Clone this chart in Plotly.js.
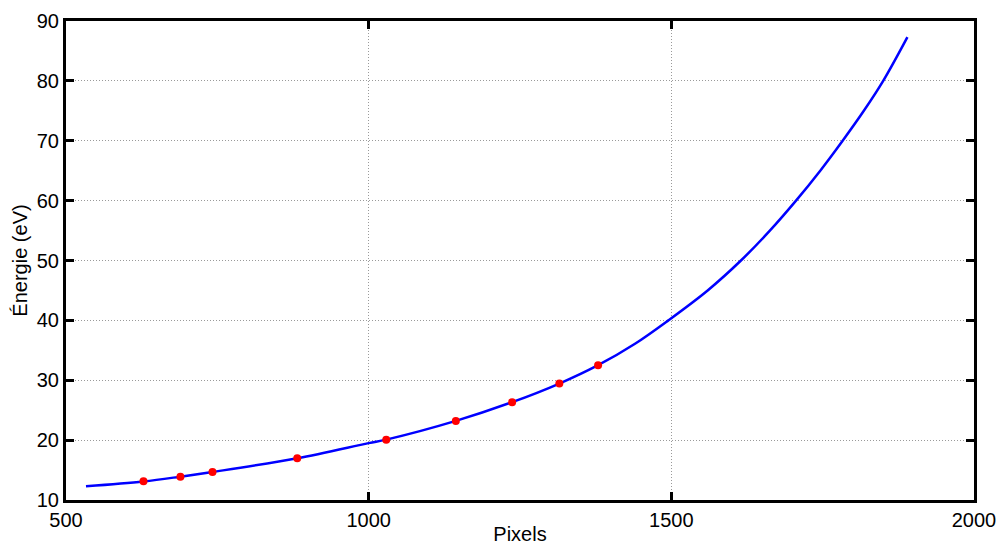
<!DOCTYPE html>
<html>
<head>
<meta charset="utf-8">
<script src="https://cdn.plot.ly/plotly-3.0.1.min.js"></script>
<style>html,body{margin:0;padding:0;background:#fff;}#chart{width:998px;height:545px;}</style>
</head>
<body>
<div id="chart"></div>
<script>
// Calibration points (red markers)
const pointPixels = [628, 689, 742, 882, 1029, 1144, 1237, 1315, 1379];
const pointEnergy = [13.13, 13.9, 14.68, 16.97, 20.08, 23.21, 26.34, 29.45, 32.52];

// Fitted curve
const curvePixels = [533, 628, 689, 742, 882, 1000, 1029, 1144, 1237, 1315, 1379, 1440, 1495, 1560, 1615, 1662, 1706, 1746, 1783, 1818, 1850, 1890];
const curveEnergy = [12.3, 13.1, 13.9, 14.68, 16.97, 19.5, 20.08, 23.21, 26.34, 29.45, 32.52, 36.1, 40, 45, 50, 54.9, 60, 65, 70, 75, 80, 87.3];

const xTicks = [500, 1000, 1500, 2000];
const yTicks = [10, 20, 30, 40, 50, 60, 70, 80, 90];

const font = {family: 'Liberation Sans, Arial, Helvetica, sans-serif', size: 20, color: '#000'};

const traces = [
  {x: curvePixels, y: curveEnergy, type: 'scatter', mode: 'lines',
   line: {color: '#0000ff', width: 2.5, shape: 'spline', smoothing: 1}, hoverinfo: 'skip'},
  {x: pointPixels, y: pointEnergy, type: 'scatter', mode: 'markers',
   marker: {color: '#ff0000', size: 8}}
];

const axisCommon = {
  showline: true, linecolor: '#000', linewidth: 3, mirror: 'ticks',
  ticks: 'inside', ticklen: 8, tickwidth: 3, tickcolor: '#000',
  showgrid: true, gridcolor: '#9a9a9a', gridwidth: 1, griddash: '1px,2px',
  zeroline: false, tickfont: font
};

const layout = {
  width: 998, height: 545,
  margin: {l: 66, r: 24, t: 21, b: 45},
  paper_bgcolor: '#fff', plot_bgcolor: '#fff',
  showlegend: false, font: font,
  xaxis: Object.assign({}, axisCommon, {
    range: [500, 2000], tickvals: xTicks, ticktext: xTicks.map(String),
    title: {text: 'Pixels', font: font, standoff: 0}
  }),
  yaxis: Object.assign({}, axisCommon, {
    range: [10, 90], tickvals: yTicks, ticktext: yTicks.map(String),
    title: {text: 'Énergie (eV)', font: font, standoff: 4}
  })
};

Plotly.newPlot('chart', traces, layout, {displayModeBar: false, staticPlot: true});
</script>
</body>
</html>
